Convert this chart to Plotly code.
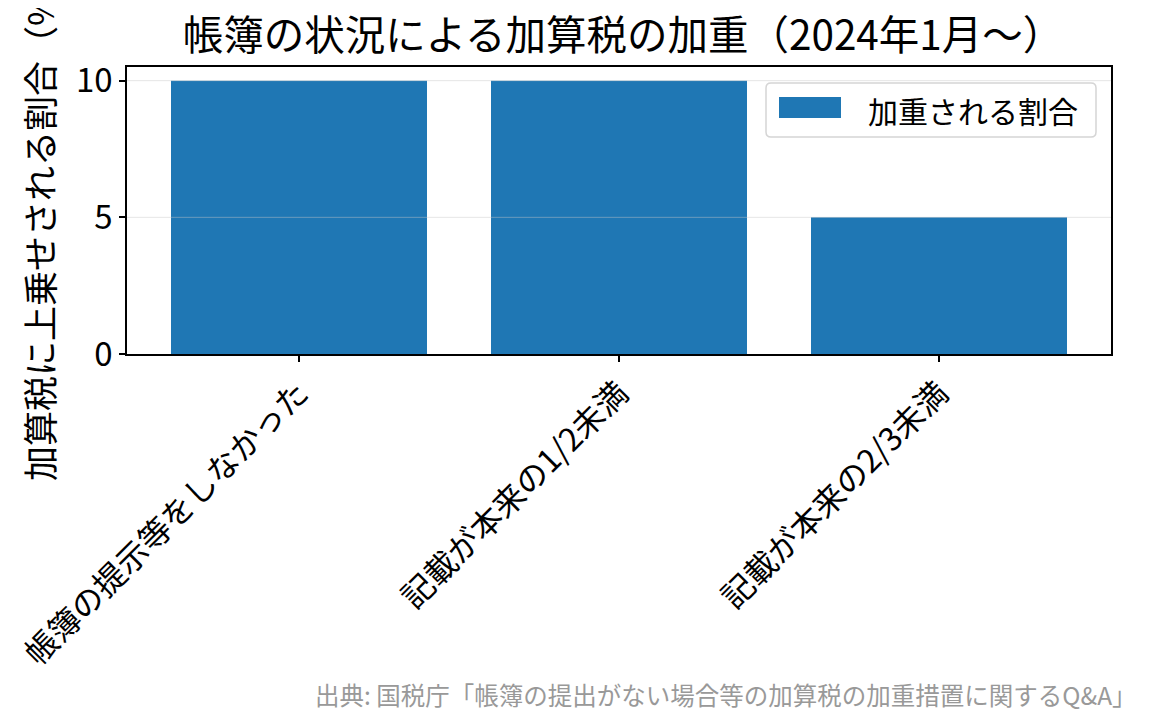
import plotly.graph_objects as go

# 帳簿の状況ごとの加重割合
categories = ["帳簿の提示等をしなかった", "記載が本来の1/2未満", "記載が本来の2/3未満"]
rates = [10, 10, 5]
y_ticks = [0, 5, 10]

series_name = "加重される割合"
title_text = "帳簿の状況による加算税の加重（2024年1月～）"
y_label = "加算税に上乗せされる割合（%）"
source_text = "出典: 国税庁「帳簿の提出がない場合等の加算税の加重措置に関するQ&A」"

font = "Noto Sans CJK JP"
bar_color = "#1f77b4"

# plot area in screen pixels (page has 8px body margin)
OFF = 8
L, R, T, B = 127, 1111, 67, 354


def px(x):
    return (x - L) / (R - L)


def py(y):
    return (B - y) / (B - T)


fig = go.Figure()
fig.add_trace(go.Bar(x=categories, y=rates, name=series_name,
                     marker_color=bar_color, marker_line_width=0, width=0.8,
                     showlegend=False))

# gridlines drawn above the bars, like the reference
for t in y_ticks[1:]:
    fig.add_shape(type="line", xref="paper", x0=0, x1=1, yref="y", y0=t, y1=t,
                  line=dict(color="rgba(200,200,200,0.45)", width=1), layer="above")

# legend box (drawn by hand to get the wide patch and rounded frame)
x0, x1, y0, y1, r = px(766), px(1096), py(137), py(83), 5
rx, ry = r / (R - L), r / (B - T)
path = (f"M {x0 + rx},{y0} L {x1 - rx},{y0} Q {x1},{y0} {x1},{y0 + ry} "
        f"L {x1},{y1 - ry} Q {x1},{y1} {x1 - rx},{y1} L {x0 + rx},{y1} "
        f"Q {x0},{y1} {x0},{y1 - ry} L {x0},{y0 + ry} Q {x0},{y0} {x0 + rx},{y0} Z")
fig.add_shape(type="path", xref="paper", yref="paper", path=path,
              fillcolor="rgba(255,255,255,0.85)", line=dict(color="#d5d5d5", width=1.5),
              layer="above")
fig.add_shape(type="rect", xref="paper", yref="paper",
              x0=px(779), x1=px(841), y0=py(118), y1=py(97),
              fillcolor=bar_color, line_width=0, layer="above")
fig.add_annotation(text=series_name, xref="paper", yref="paper",
                   x=px(866), y=py(110), xanchor="left", yanchor="middle",
                   showarrow=False, font=dict(size=30))

fig.update_layout(
    width=1153, height=725,
    margin=dict(l=L - OFF, r=1153 - R + OFF, t=T - OFF, b=725 - B + OFF),
    paper_bgcolor="white", plot_bgcolor="white",
    font=dict(family=font, size=30, color="black"),
    title=dict(text=title_text, x=(623 - OFF) / 1153, xanchor="center",
               y=1 - (36 - OFF) / 725, yanchor="middle", font=dict(size=40.5)),
    showlegend=False,
)

fig.update_xaxes(range=[-0.5375, 2.5375], tickangle=-45, ticks="outside",
                 ticklen=6, tickwidth=1.5, tickcolor="black",
                 showline=True, linecolor="black", linewidth=1.5, mirror=True,
                 tickfont=dict(size=32), automargin=False)
fig.update_yaxes(range=[0, 10.5], tickvals=y_ticks, ticks="outside",
                 ticklen=6, tickwidth=1.5, tickcolor="black",
                 showline=True, linecolor="black", linewidth=1.5, mirror=True,
                 showgrid=False, zeroline=False, tickfont=dict(size=33),
                 automargin=False)

fig.add_annotation(text=y_label, textangle=-90, xref="paper", yref="paper",
                   x=px(38), y=py(220), xanchor="center", yanchor="middle",
                   showarrow=False, font=dict(size=35))

fig.add_annotation(text=source_text, xref="paper", yref="paper",
                   x=px(1139), y=py(695), xanchor="right", yanchor="middle",
                   showarrow=False, font=dict(size=24.5, color="#999999"))

fig.write_html("out.html")
